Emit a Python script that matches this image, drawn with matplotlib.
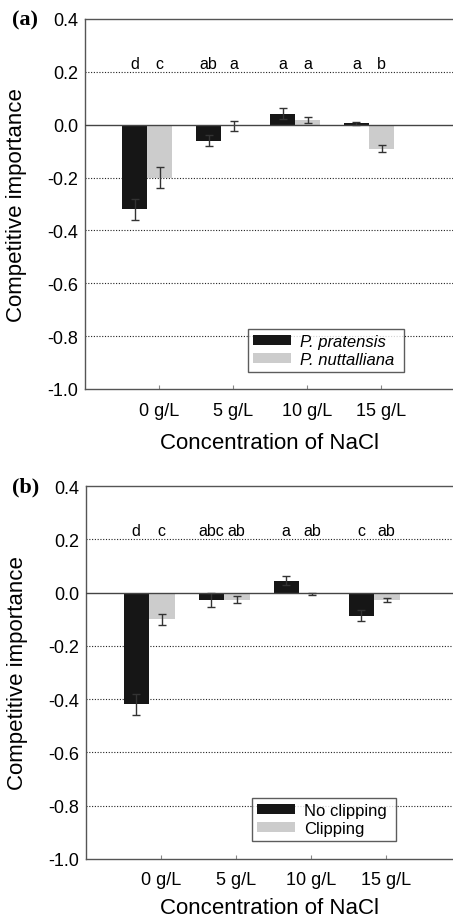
import matplotlib
matplotlib.use('Agg')
import matplotlib.pyplot as plt
import numpy as np

plt.rcParams['font.family'] = ['Liberation Sans', 'DejaVu Sans']

categories = ['0 g/L', '5 g/L', '10 g/L', '15 g/L']
yticks = [-1.0, -0.8, -0.6, -0.4, -0.2, 0.0, 0.2, 0.4]

# panel (a): species
a_labels = ['P. pratensis', 'P. nuttalliana']
a_black = [-0.32, -0.06, 0.042, 0.005]
a_black_err = [0.04, 0.02, 0.02, 0.005]
a_gray = [-0.20, -0.005, 0.018, -0.09]
a_gray_err = [0.04, 0.02, 0.013, 0.015]
a_letters_black = ['d', 'ab', 'a', 'a']
a_letters_gray = ['c', 'a', 'a', 'b']

# panel (b): clipping
b_labels = ['No clipping', 'Clipping']
b_black = [-0.42, -0.027, 0.045, -0.087]
b_black_err = [0.04, 0.026, 0.018, 0.02]
b_gray = [-0.10, -0.027, -0.005, -0.027]
b_gray_err = [0.02, 0.013, 0.005, 0.008]
b_letters_black = ['d', 'abc', 'a', 'c']
b_letters_gray = ['c', 'ab', 'ab', 'ab']

BLACK = '#161616'
GRAY = '#cccccc'
W = 0.34


def DrawPanel(fig, rect, xr, tag, black, black_err, gray, gray_err,
              let_b, let_g, labels, legend_rect, italic, xlab_off):
    ax = fig.add_axes(rect)
    x = np.arange(len(categories))
    ax.bar(x - W/2, black, W, color=BLACK, label=labels[0], zorder=3)
    ax.bar(x + W/2, gray, W, color=GRAY, label=labels[1], zorder=3)
    ekw = dict(fmt='none', ecolor='#333333', elinewidth=1.0, capsize=3,
               capthick=1.0, zorder=4)
    ax.errorbar(x - W/2, black, yerr=black_err, **ekw)
    ax.errorbar(x + W/2, gray, yerr=gray_err, **ekw)
    for i in x:
        ax.text(i - W/2, 0.232, let_b[i], ha='center', va='center', fontsize=11.5)
        ax.text(i + W/2, 0.232, let_g[i], ha='center', va='center', fontsize=11.5)

    ax.set_xlim(-0.84, xr)
    ax.set_ylim(-1.0, 0.4)
    ax.set_yticks(yticks)
    ax.set_yticklabels([f'{v:.1f}' for v in yticks])
    for g in [0.2, -0.2, -0.4, -0.6, -0.8]:
        ax.axhline(g, color='#222222', linestyle=(0, (1, 1.5)), linewidth=0.8,
                   zorder=1)
    ax.axhline(0, color='#444444', linewidth=1.0, zorder=5)
    ax.set_xticks(x + 0.16)
    ax.set_xticklabels(categories)
    ax.tick_params(axis='x', direction='in', length=3, color='#888888',
                   labelsize=13, pad=9)
    ax.tick_params(axis='y', length=0, labelsize=13, pad=5)
    for s in ['top', 'left', 'bottom']:
        ax.spines[s].set_color('#555555')
        ax.spines[s].set_linewidth(1.0)
    ax.spines['right'].set_visible(False)

    axw = rect[2] * 453
    axh = rect[3] * 920
    ax.set_xlabel('Concentration of NaCl', fontsize=16)
    ax.xaxis.set_label_coords((270 - rect[0] * 453) / axw, -xlab_off / axh)
    ax.set_ylabel('Competitive importance', fontsize=16)
    ax.yaxis.set_label_coords(-58 / axw, 0.5)

    leg = ax.legend(loc='lower left', bbox_to_anchor=legend_rect,
                    bbox_transform=fig.transFigure, mode='expand',
                    fontsize=12, frameon=True, fancybox=False,
                    handlelength=2.3, handleheight=0.5, handletextpad=0.5,
                    borderpad=0.3, labelspacing=0.2, borderaxespad=0)
    leg.get_frame().set_edgecolor('#333333')
    leg.get_frame().set_linewidth(1.0)
    if italic:
        for t in leg.get_texts():
            t.set_fontstyle('italic')
    fig.text(rect[0] - 60 / 453, rect[1] + rect[3], tag, ha='center',
             va='center', fontsize=16, fontweight='bold',
             family='Liberation Serif')
    return ax


fig = plt.figure(figsize=(4.53, 9.2), dpi=100)

rect_a = [85/453, 1 - 390/920, (480 - 85)/453, 370/920]
DrawPanel(fig, rect_a, (480 - 147)/74, '(a)', a_black, a_black_err, a_gray,
          a_gray_err, a_letters_black, a_letters_gray, a_labels,
          (248/453, 1 - 373/920, 156/453, 53/920), True, 43)

rect_b = [86/453, 1 - 860/920, (480 - 86)/453, 373/920]
DrawPanel(fig, rect_b, (480 - 149)/75, '(b)', b_black, b_black_err, b_gray,
          b_gray_err, b_letters_black, b_letters_gray, b_labels,
          (252/453, 1 - 842/920, 144/453, 53/920), False, 38)

fig.savefig('out.png', dpi=100)
